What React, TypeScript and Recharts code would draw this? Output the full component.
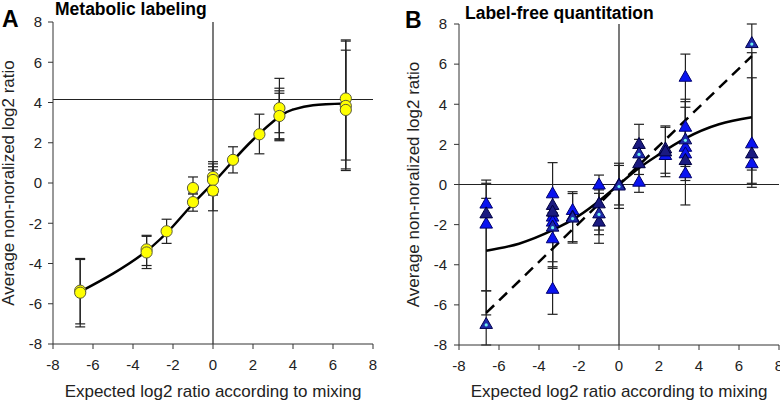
import React from 'react';
import { ComposedChart, Scatter, Line, XAxis, YAxis, ErrorBar, ReferenceLine, Label } from 'recharts';

const FONT = '"Liberation Sans", Arial, Helvetica, sans-serif';
const INK = '#222';
const axisTicks = [-8, -6, -4, -2, 0, 2, 4, 6, 8];

// ---- Panel A: metabolic labeling ----
const metabolicPoints = [
  { x: -6.64, y: -5.35 }, { x: -6.64, y: -5.45 },
  { x: -3.32, y: -3.3 }, { x: -3.32, y: -3.45 },
  { x: -2.32, y: -2.4 },
  { x: -1, y: -0.25 }, { x: -1, y: -0.95 },
  { x: 0, y: 0.3 }, { x: 0, y: 0.15 }, { x: 0, y: -0.38 },
  { x: 1, y: 1.15 },
  { x: 2.32, y: 2.42 },
  { x: 3.32, y: 3.72 }, { x: 3.32, y: 3.33 },
  { x: 6.64, y: 4.2 }, { x: 6.64, y: 3.83 }, { x: 6.64, y: 3.63 },
];
const metabolicErrors = [
  { x: -6.64, lo: -7.0, hi: -3.75 }, { x: -6.64, lo: -7.15, hi: -3.8 },
  { x: -3.32, lo: -4.1, hi: -2.6 }, { x: -3.32, lo: -4.25, hi: -2.65 },
  { x: -2.32, lo: -3.0, hi: -1.8 },
  { x: -1, lo: -0.55, hi: 0.3 }, { x: -1, lo: -1.4, hi: -0.5 },
  { x: 0, lo: -0.55, hi: 1.06 }, { x: 0, lo: -1.38, hi: 0.95 },
  { x: 0, lo: -0.5, hi: 0.81 }, { x: 0, lo: -0.6, hi: 0.65 },
  { x: 1, lo: 0.5, hi: 1.8 },
  { x: 2.32, lo: 1.45, hi: 3.42 },
  { x: 3.32, lo: 2.15, hi: 5.2 }, { x: 3.32, lo: 2.1, hi: 4.71 },
  { x: 3.32, lo: 2.2, hi: 4.58 }, { x: 3.32, lo: 2.5, hi: 4.46 },
  { x: 6.64, lo: 0.62, hi: 7.11 }, { x: 6.64, lo: 0.7, hi: 7.05 }, { x: 6.64, lo: 1.14, hi: 6.6 },
];
const metabolicFit = [
  { x: -6.64, y: -5.4 }, { x: -5, y: -4.5 }, { x: -3.32, y: -3.38 },
  { x: -2, y: -2.15 }, { x: -1, y: -1.03 }, { x: 0, y: 0 }, { x: 1, y: 1.1 },
  { x: 2, y: 2.15 }, { x: 3.32, y: 3.3 }, { x: 4, y: 3.65 }, { x: 5, y: 3.86 },
  { x: 6.64, y: 3.95 },
];
const metabolicPlateau = 4.15;

// ---- Panel B: label-free quantitation ----
const blueTriangles = [
  { x: -6.64, y: -0.95 }, { x: -6.64, y: -1.95 },
  { x: -3.32, y: -0.44 }, { x: -3.32, y: -1.6 }, { x: -3.32, y: -1.85 },
  { x: -3.32, y: -2.68 }, { x: -3.32, y: -5.2 },
  { x: -2.32, y: -1.27 },
  { x: -1, y: 0 },
  { x: 1, y: 0.14 },
  { x: 2.32, y: 1.47 },
  { x: 3.32, y: 5.37 }, { x: 3.32, y: 2.88 }, { x: 3.32, y: 1.88 },
  { x: 3.32, y: 1.55 }, { x: 3.32, y: 0.56 },
  { x: 6.64, y: 2.05 }, { x: 6.64, y: 1.06 },
];
const navyTriangles = [
  { x: -6.64, y: -1.44 },
  { x: -3.32, y: -1.02 }, { x: -3.32, y: -1.35 },
  { x: -2.32, y: -1.6 },
  { x: -1, y: -0.94 }, { x: -1, y: -1.85 },
  { x: 0, y: 0 },
  { x: 1, y: 2.02 }, { x: 1, y: 1.06 },
  { x: 2.32, y: 1.8 }, { x: 2.32, y: 1.65 },
  { x: 3.32, y: 1.22 },
  { x: 6.64, y: 1.55 },
];
const markedTriangles = [
  { x: -6.64, y: -6.95 },
  { x: -3.32, y: -2.1 },
  { x: -2.32, y: -1.65 },
  { x: -1, y: -1.44 },
  { x: 0, y: -0.05 },
  { x: 1, y: 1.55 },
  { x: 3.32, y: 2.25 },
  { x: 6.64, y: 7.05 },
];
const labelFreeErrors = [
  { x: -6.64, lo: -2.1, hi: 0.22 }, { x: -6.64, lo: -5.3, hi: 0.06 },
  { x: -6.64, lo: -6.5, hi: -0.69 }, { x: -6.64, lo: -8, hi: -5.3 },
  { x: -3.32, lo: -6.47, hi: 1.09 }, { x: -3.32, lo: -3.85, hi: -1.2 },
  { x: -3.32, lo: -4.1, hi: -1.4 }, { x: -3.32, lo: -4.18, hi: -1.6 },
  { x: -2.32, lo: -2.85, hi: -0.36 }, { x: -2.32, lo: -2.92, hi: -0.45 },
  { x: -1, lo: -2.93, hi: 0.47 }, { x: -1, lo: -2.27, hi: -0.27 }, { x: -1, lo: -2.5, hi: -0.44 },
  { x: 0, lo: -1.02, hi: 1.06 }, { x: 0, lo: -1.19, hi: 0.95 },
  { x: 1, lo: -0.39, hi: 3.0 }, { x: 1, lo: 0.5, hi: 2.25 },
  { x: 2.32, lo: 0.56, hi: 2.92 }, { x: 2.32, lo: 0.39, hi: 2.85 },
  { x: 3.32, lo: -1.02, hi: 6.5 }, { x: 3.32, lo: 0.2, hi: 4.25 },
  { x: 3.32, lo: 0.5, hi: 4.13 }, { x: 3.32, lo: 0.9, hi: 3.85 },
  { x: 6.64, lo: -0.14, hi: 8 }, { x: 6.64, lo: 0.06, hi: 6.57 }, { x: 6.64, lo: 0.72, hi: 5.32 },
];
const labelFreeFit = [
  { x: -6.64, y: -3.3 }, { x: -5, y: -2.95 }, { x: -3.32, y: -2.28 },
  { x: -2, y: -1.55 }, { x: -1, y: -0.82 }, { x: 0, y: 0 }, { x: 1, y: 0.82 },
  { x: 2, y: 1.5 }, { x: 3.32, y: 2.3 }, { x: 5, y: 3.0 }, { x: 6.64, y: 3.35 },
];
const labelFreeIdentity = [
  { x: -6.64, y: -6.4 }, { x: 0, y: 0 }, { x: 6.64, y: 6.4 },
];

const toBars = (rows: { x: number; lo: number; hi: number }[]) =>
  rows.map((r) => ({ x: r.x, y: r.lo, err: [0, r.hi - r.lo] }));

const YellowDot = (p: any) => (
  <circle cx={p.cx} cy={p.cy} r={5.6} fill="#ffff00" stroke="#5a5a3a" strokeWidth={1} />
);

const triangle = (fill: string, stroke: string, marked = false) => (p: any) => (
  <g>
    <polygon
      points={`${p.cx},${p.cy - 6.5} ${p.cx - 6.3},${p.cy + 4.5} ${p.cx + 6.3},${p.cy + 4.5}`}
      fill={fill}
      stroke={stroke}
      strokeWidth={1}
    />
    {marked && <circle cx={p.cx} cy={p.cy + 1} r={1.6} fill="#6ef0f0" />}
  </g>
);

const Nothing = () => <g />;

const tickStyle = { fill: INK, fontSize: 15, fontFamily: FONT };
const lineStyle = { stroke: '#333', strokeWidth: 1 };

const yTitle = (baseX: number) => (props: any) => {
  const vb = props.viewBox;
  const cy = vb.y + vb.height / 2;
  return (
    <text
      x={baseX}
      y={cy}
      transform={`rotate(-90 ${baseX} ${cy})`}
      textAnchor="middle"
      fill={INK}
      fontSize={17}
      fontFamily={FONT}
    >
      Average non-noralized log2 ratio
    </text>
  );
};

const xTitle = (
  <Label
    value="Expected log2 ratio according to mixing"
    position="insideBottom"
    offset={6}
    fill={INK}
    fontSize={17}
    fontFamily={FONT}
  />
);

export default function App() {
  return (
    <div style={{ position: 'absolute', left: 0, top: 0, width: 780, height: 403, background: '#fff' }}>
      <div style={{ position: 'absolute', left: 0, top: 0 }}>
        <ComposedChart width={390} height={403} margin={{ top: 22, right: 17, bottom: 0, left: 0 }}>
          <XAxis
            type="number"
            dataKey="x"
            domain={[-8, 8]}
            ticks={axisTicks}
            interval={0}
            height={59}
            tickSize={5}
            tickMargin={10}
            axisLine={lineStyle}
            tickLine={lineStyle}
            tick={tickStyle}
          >
            {xTitle}
          </XAxis>
          <YAxis
            type="number"
            dataKey="y"
            domain={[-8, 8]}
            ticks={axisTicks}
            interval={0}
            width={53}
            tickSize={5}
            tickMargin={6}
            axisLine={lineStyle}
            tickLine={lineStyle}
            tick={tickStyle}
          >
            <Label content={yTitle(14)} />
          </YAxis>
          <ReferenceLine x={0} stroke="#222" strokeWidth={1.2} />
          <ReferenceLine y={metabolicPlateau} stroke="#222" strokeWidth={1.2} />
          <Scatter data={toBars(metabolicErrors)} shape={Nothing} isAnimationActive={false}>
            <ErrorBar dataKey="err" direction="y" width={5} stroke="#222" strokeWidth={1.2} isAnimationActive={false} />
          </Scatter>
          <Line
            data={metabolicFit}
            dataKey="y"
            type="natural"
            stroke="#000"
            strokeWidth={2.5}
            dot={false}
            isAnimationActive={false}
          />
          <Scatter data={metabolicPoints} shape={YellowDot} isAnimationActive={false} />
        </ComposedChart>
      </div>
      <div style={{ position: 'absolute', left: 390, top: 0 }}>
        <ComposedChart width={390} height={403} margin={{ top: 24, right: 1, bottom: 0, left: 0 }}>
          <XAxis
            type="number"
            dataKey="x"
            domain={[-8, 8]}
            ticks={axisTicks}
            interval={0}
            height={58}
            tickSize={5}
            tickMargin={10}
            axisLine={lineStyle}
            tickLine={lineStyle}
            tick={tickStyle}
          >
            {xTitle}
          </XAxis>
          <YAxis
            type="number"
            dataKey="y"
            domain={[-8, 8]}
            ticks={axisTicks}
            interval={0}
            width={69}
            tickSize={5}
            tickMargin={7}
            axisLine={lineStyle}
            tickLine={lineStyle}
            tick={tickStyle}
          >
            <Label content={yTitle(29)} />
          </YAxis>
          <ReferenceLine x={0} stroke="#222" strokeWidth={1.2} />
          <ReferenceLine y={0} stroke="#222" strokeWidth={1.2} />
          <Scatter data={toBars(labelFreeErrors)} shape={Nothing} isAnimationActive={false}>
            <ErrorBar dataKey="err" direction="y" width={5} stroke="#222" strokeWidth={1.2} isAnimationActive={false} />
          </Scatter>
          <Scatter data={blueTriangles} shape={triangle('#0a14f0', '#000070')} isAnimationActive={false} />
          <Scatter data={navyTriangles} shape={triangle('#1a1a80', '#000040')} isAnimationActive={false} />
          <Scatter data={markedTriangles} shape={triangle('#1e2aa8', '#000050', true)} isAnimationActive={false} />
          <Line
            data={labelFreeIdentity}
            dataKey="y"
            type="linear"
            stroke="#000"
            strokeWidth={2.5}
            strokeDasharray="11 7"
            dot={false}
            isAnimationActive={false}
          />
          <Line
            data={labelFreeFit}
            dataKey="y"
            type="natural"
            stroke="#000"
            strokeWidth={2.5}
            dot={false}
            isAnimationActive={false}
          />
        </ComposedChart>
      </div>
      <svg
        width={780}
        height={403}
        style={{ position: 'absolute', left: 0, top: 0, pointerEvents: 'none' }}
        fontFamily={FONT}
      >
        <text x={2} y={27} fontSize={23} fontWeight="bold" fill="#000">A</text>
        <text x={55} y={15} fontSize={17.5} fontWeight="bold" fill="#000">Metabolic labeling</text>
        <text x={405} y={28} fontSize={23} fontWeight="bold" fill="#000">B</text>
        <text x={465} y={18.5} fontSize={17.5} fontWeight="bold" fill="#000">Label-free quantitation</text>
      </svg>
    </div>
  );
}
